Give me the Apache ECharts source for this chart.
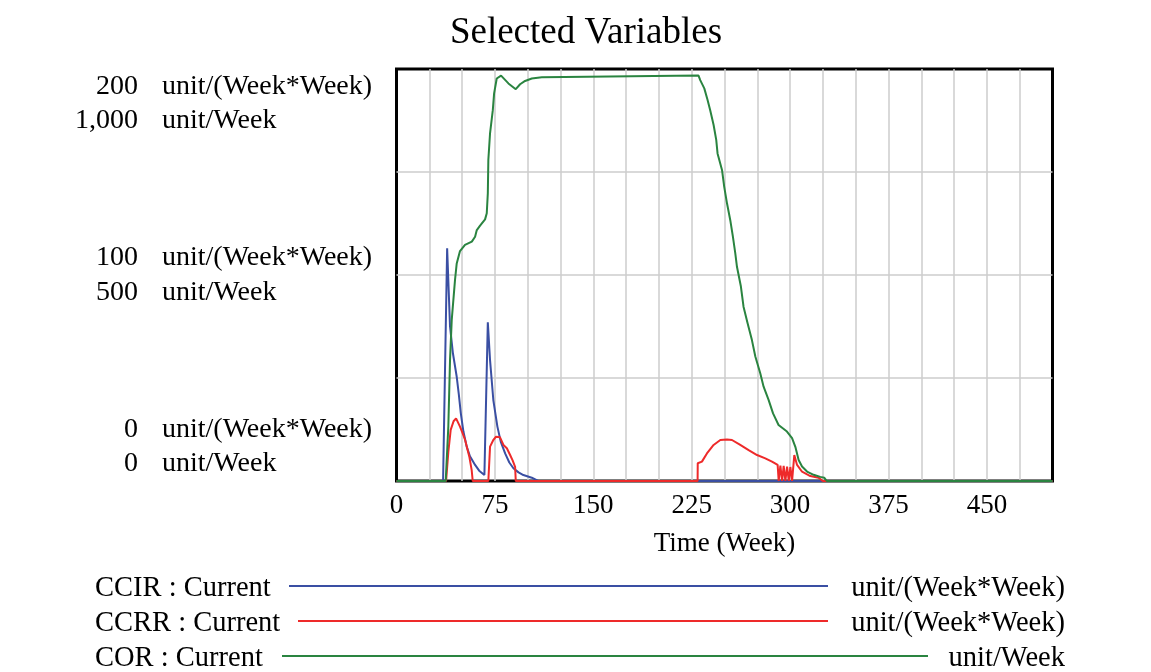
<!DOCTYPE html>
<html>
<head>
<meta charset="utf-8">
<script src="https://cdn.jsdelivr.net/npm/echarts@6/dist/echarts.min.js"></script>
<style>
html,body{margin:0;padding:0;background:#fff;}
#chart{width:1151px;height:672px;}
</style>
</head>
<body>
<div id="chart"></div>
<script>
// ---- data (time in weeks) ----
const titleText = 'Selected Variables';
const xName = 'Time (Week)';
const xMax = 500;
const xGridStep = 25;
const xLabelStep = 75;

const rateUnit = 'unit/(Week*Week)';
const flowUnit = 'unit/Week';
const rateTickValues = [0, 100, 200];
const rateTickLabels = ['0', '100', '200'];
const flowTickValues = [0, 500, 1000];
const flowTickLabels = ['0', '500', '1,000'];

const seriesNames = ['CCIR : Current', 'CCRR : Current', 'COR : Current'];
const seriesUnits = [rateUnit, rateUnit, flowUnit];
const seriesColors = ['#3a4fa3', '#ee2a2a', '#2a8440'];

// CCIR (unit/(Week*Week))
const ccir = [
  [0,0],[35.5,0],[38.6,113],[40.8,75],[43,62],[45.9,50.6],[47.5,42],[49,33],
  [51,24],[53.5,16.7],[56,12],[59.9,7.8],[63,5],[67,2.9],[67.6,2.6],
  [69.6,77],[71.3,58.7],[73.8,39.3],[76.9,26.4],[79.5,19],[82.8,13.4],
  [86,9],[89.1,6.2],[93,4.2],[96.7,2.9],[103.1,1.6],[108,0],[500,0]
];
// CCRR (unit/(Week*Week))
const ccrr = [
  [0,0],[37.8,0],[39.5,14],[41.3,24.8],[43.5,29],[45.4,30.4],[48.4,26.4],
  [50.5,23],[52.3,19.9],[55.5,11.8],[57.3,5.3],[58.1,0],[70,0],[71.3,16.7],
  [73.8,19.9],[75.9,21.5],[78.9,21.2],[81.5,17.5],[84.1,15.9],[86.6,12.6],
  [88.5,10],[90.4,6.9],[90.9,0],[229.5,0],[229.6,8.6],[232.8,9.4],[236.6,13.4],
  [241.7,17.5],[246.8,19.9],[251.9,20.2],[255.7,19.9],[262,17.5],[268.4,15],
  [274.8,12.6],[281.1,11],[286.2,9.4],[290.5,7.8],[291.3,0],[292.6,7.5],
  [293.9,0],[295.1,7.3],[296.4,0],[297.7,7],[299,0],[300.2,6.8],[301.5,0],
  [303.2,12.6],[305.3,7.8],[309.1,4.5],[315.4,2.4],[321.7,1.6],[325,0],[500,0]
];
// COR (unit/Week)
const cor = [
  [0,0],[37.5,0],[39.5,132],[40.8,294],[42.1,391],[44.6,488],[45.9,528],
  [48.4,558],[52.2,573],[57.4,581],[59.9,593],[61.2,609],[63.7,620],[67.5,635],
  [68.8,650],[69.6,698],[70,779],[71.3,844],[73.4,900],[74.4,941],[76.4,977],
  [79.7,984],[85.3,965],[90.9,951],[94.2,963],[98,971],[103.1,977],[110.8,980],
  [112,984],[230.2,984],[231.5,973],[234.6,953],[237.1,925],[239.1,900],
  [241.7,864],[243.7,828],[244.7,795],[248.1,755],[249.8,714],[251.9,674],
  [254.4,633],[256.4,593],[258.2,553],[259.5,520],[262.5,472],[264.5,423],
  [267.6,383],[270.9,342],[273.5,302],[277.3,261],[279.8,229],[283.6,197],
  [287,164],[291.2,136],[297.6,120],[301.5,104],[304,83],[306.5,51],[309.1,35],
  [312.9,23],[317.9,15],[323,10],[326,8],[328,0],[500,0]
];

// ---- chart ----
const FONT = '"Liberation Serif", "Times New Roman", serif';
const chart = echarts.init(document.getElementById('chart'));

// pad a two-line tick label so that it sits inside the plot at top / bottom
function padRows(text, i, n) {
  if (i === n - 1) return '\n\n' + text;
  if (i === 0) return text + '\n\n';
  return text;
}

const rowY = [586, 621, 656];
const lineX = [[289, 828], [298, 828], [282, 928]];
const legendGraphics = [];
seriesNames.forEach(function (name, i) {
  legendGraphics.push({
    type: 'text', left: 95, top: rowY[i] - 12,
    style: { text: name, font: '28.5px ' + FONT, fill: '#000' }
  });
  legendGraphics.push({
    type: 'line',
    shape: { x1: lineX[i][0], y1: rowY[i], x2: lineX[i][1], y2: rowY[i] },
    style: { stroke: seriesColors[i], lineWidth: 2 }
  });
  legendGraphics.push({
    type: 'text', right: 1151 - 1065, top: rowY[i] - 12,
    style: { text: seriesUnits[i], font: '28.5px ' + FONT, fill: '#000' }
  });
});

const splitStyle = { show: true, showMinLine: false, showMaxLine: false,
  lineStyle: { color: '#cccccc', width: 1.5 } };

const option = {
  backgroundColor: '#fff',
  animation: false,
  title: {
    text: titleText,
    left: 581, top: 10, textAlign: 'center',
    textStyle: { fontFamily: FONT, fontSize: 37, fontWeight: 'normal', color: '#000' }
  },
  grid: {
    left: 396.5, right: 98.5, top: 69, bottom: 191,
    show: true, borderColor: '#000', borderWidth: 3,
    outerBoundsMode: 'none'
  },
  xAxis: {
    type: 'value', min: 0, max: xMax, interval: xGridStep,
    name: xName, nameLocation: 'middle', nameGap: 49,
    nameTextStyle: { fontFamily: FONT, fontSize: 27, color: '#000' },
    axisLine: { show: false }, axisTick: { show: false },
    axisLabel: {
      margin: 11, fontFamily: FONT, fontSize: 27, color: '#000',
      formatter: function (v) { return v % xLabelStep === 0 ? String(v) : ''; }
    },
    splitLine: splitStyle
  },
  yAxis: [
    {
      // rate axis (CCIR, CCRR) - shows the numbers of both scales
      type: 'value', min: 0, max: 200, interval: 50, position: 'left', offset: 0,
      axisLine: { show: false }, axisTick: { show: false },
      splitLine: splitStyle,
      axisLabel: {
        margin: 258.5, align: 'right', color: '#000', fontFamily: FONT, fontSize: 28,
        lineHeight: 34.5, padding: [5, 0, 0, 0],
        formatter: function (v) {
          const i = rateTickValues.indexOf(v);
          if (i < 0) return '';
          return padRows(rateTickLabels[i] + '\n' + flowTickLabels[i], i, rateTickValues.length);
        }
      }
    },
    {
      // flow axis (COR) - shows the unit names
      type: 'value', min: 0, max: 1000, interval: 250, position: 'left', offset: 0,
      axisLine: { show: false }, axisTick: { show: false },
      splitLine: { show: false },
      axisLabel: {
        margin: 234.5, align: 'left', color: '#000', fontFamily: FONT, fontSize: 28,
        lineHeight: 34.5, padding: [5, 0, 0, 0],
        formatter: function (v) {
          const i = flowTickValues.indexOf(v);
          if (i < 0) return '';
          return padRows(rateUnit + '\n' + flowUnit, i, flowTickValues.length);
        }
      }
    }
  ],
  series: [
    { name: seriesNames[0], type: 'line', data: ccir, yAxisIndex: 0, showSymbol: false, symbol: 'none',
      lineStyle: { color: seriesColors[0], width: 2 }, itemStyle: { color: seriesColors[0] } },
    { name: seriesNames[1], type: 'line', data: ccrr, yAxisIndex: 0, showSymbol: false, symbol: 'none',
      lineStyle: { color: seriesColors[1], width: 2 }, itemStyle: { color: seriesColors[1] } },
    { name: seriesNames[2], type: 'line', data: cor, yAxisIndex: 1, showSymbol: false, symbol: 'none',
      lineStyle: { color: seriesColors[2], width: 2 }, itemStyle: { color: seriesColors[2] } }
  ],
  graphic: legendGraphics
};
chart.setOption(option);
</script>
</body>
</html>
